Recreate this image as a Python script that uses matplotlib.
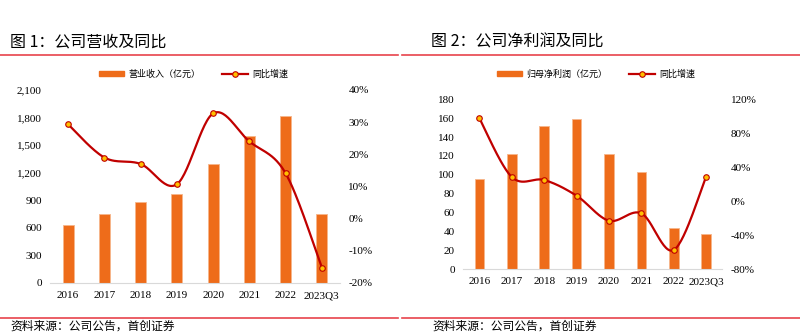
import numpy as np
import matplotlib
matplotlib.use("Agg")
import matplotlib.pyplot as plt
from matplotlib.lines import Line2D
from matplotlib.patches import Patch

# data
years = ["2016", "2017", "2018", "2019", "2020", "2021", "2022", "2023Q3"]
revenue = [631, 751, 881, 968, 1291, 1600, 1820, 751]          # 亿元
revenue_yoy = [29.3, 19.0, 17.0, 10.7, 32.7, 24.0, 14.1, -15.2]  # %
profit = [95.5, 122, 151.7, 159.5, 122, 102.9, 43.2, 37.5]      # 亿元
profit_yoy = [97.6, 28.4, 24.9, 6.4, -23.1, -14.4, -57.6, 28.8]  # %

BAR = "#EE6C1A"
LINE = "#C00000"
MARK = "#FFC000"
CJK = ["Noto Sans CJK SC", "DejaVu Sans"]
SERIF = "Liberation Serif"


def smooth(x, y, n=30):
    # Excel-style smoothed line (Catmull-Rom through the points)
    x = np.asarray(x, float)
    y = np.asarray(y, float)
    px = np.r_[x[0], x, x[-1]]
    py = np.r_[y[0], y, y[-1]]
    xs, ys = [], []
    t = np.linspace(0, 1, n)
    for i in range(1, len(px) - 2):
        p0 = np.array([px[i], py[i]])
        p3 = np.array([px[i + 1], py[i + 1]])
        c1 = p0 + (np.array([px[i + 1], py[i + 1]]) - np.array([px[i - 1], py[i - 1]])) / 6
        c2 = p3 - (np.array([px[i + 2], py[i + 2]]) - np.array([px[i], py[i]])) / 6
        b = ((1 - t) ** 3)[:, None] * p0 + (3 * (1 - t) ** 2 * t)[:, None] * c1 \
            + (3 * (1 - t) * t ** 2)[:, None] * c2 + (t ** 3)[:, None] * p3
        xs.append(b[:, 0])
        ys.append(b[:, 1])
    return np.concatenate(xs), np.concatenate(ys)


def panel(rect, bars, yoy, lticks, lfmt, rticks, bar_label, leg_x):
    ax = fig.add_axes(rect)
    x = np.arange(len(years))
    ax.bar(x, bars, width=0.3, color=BAR, edgecolor="#F6B58A", linewidth=0.6, zorder=2)
    ax.set_xlim(-0.5, 7.5)
    ax.set_ylim(lticks[0], lticks[-1])
    ax.set_yticks(lticks)
    ax.set_yticklabels([lfmt(v) for v in lticks], fontfamily=SERIF, fontsize=8)
    ax.set_xticks(x)
    ax.set_xticklabels(years, fontfamily=SERIF, fontsize=8)
    for s in ["top", "right", "left"]:
        ax.spines[s].set_visible(False)
    ax.spines["bottom"].set_color("#D9D9D9")
    ax.tick_params(length=0, pad=6)

    ax2 = ax.twinx()
    ax2.set_ylim(rticks[0], rticks[-1])
    ax2.set_yticks(rticks)
    ax2.set_yticklabels([f"{v}%" for v in rticks], fontfamily=SERIF, fontsize=8)
    for s in ax2.spines.values():
        s.set_visible(False)
    ax2.tick_params(length=0, pad=6)
    sx, sy = smooth(x, yoy)
    ax2.plot(sx, sy, color=LINE, lw=1.6, zorder=3)
    ax2.plot(x, yoy, ls="none", marker="o", ms=4, mfc=MARK, mec=LINE, mew=0.8, zorder=4)

    handles = [Patch(color=BAR),
               Line2D([], [], color=LINE, lw=1.6, marker="o", ms=4, mfc=MARK, mec=LINE, mew=0.8)]
    fig.legend(handles, [bar_label, "同比增速"], loc="center", bbox_to_anchor=(leg_x, 0.778),
               ncol=2, frameon=False, prop={"family": CJK, "size": 6.5},
               handlelength=2.8, handleheight=0.6, columnspacing=2.4, handletextpad=0.5)


fig = plt.figure(figsize=(8, 3.34), dpi=100)

panel([0.0625, 0.1527, 0.3625, 0.578], revenue, revenue_yoy,
      list(range(0, 2101, 300)), lambda v: f"{v:,}", list(range(-20, 41, 10)),
      "营业收入（亿元）", 0.242)
panel([0.579, 0.1946, 0.324, 0.508], profit, profit_yoy,
      list(range(0, 181, 20)), lambda v: f"{v}", list(range(-80, 121, 40)),
      "归母净利润（亿元）", 0.745)

# titles, rules and sources
fig.text(0.0125, 1 - 42 / 334, "图 1：公司营收及同比", fontfamily=CJK, fontsize=11.5, va="center")
fig.text(431 / 800, 1 - 42 / 334, "图 2：公司净利润及同比", fontfamily=CJK, fontsize=11.5, va="center")
for x0, x1 in [(0, 0.497), (0.503, 1)]:
    fig.add_artist(Line2D([x0, x1], [1 - 55 / 334] * 2, color="#E8434B", lw=1.2))
    fig.add_artist(Line2D([x0, x1], [1 - 318 / 334] * 2, color="#E8434B", lw=1.2))
fig.text(0.0125, 1 - 326 / 334, "资料来源：公司公告，首创证券", fontfamily=CJK, fontsize=8.5,
         va="center", style="italic")
fig.text(432 / 800, 1 - 326 / 334, "资料来源：公司公告，首创证券", fontfamily=CJK, fontsize=8.5,
         va="center", style="italic")

fig.savefig("out.png", dpi=100)
